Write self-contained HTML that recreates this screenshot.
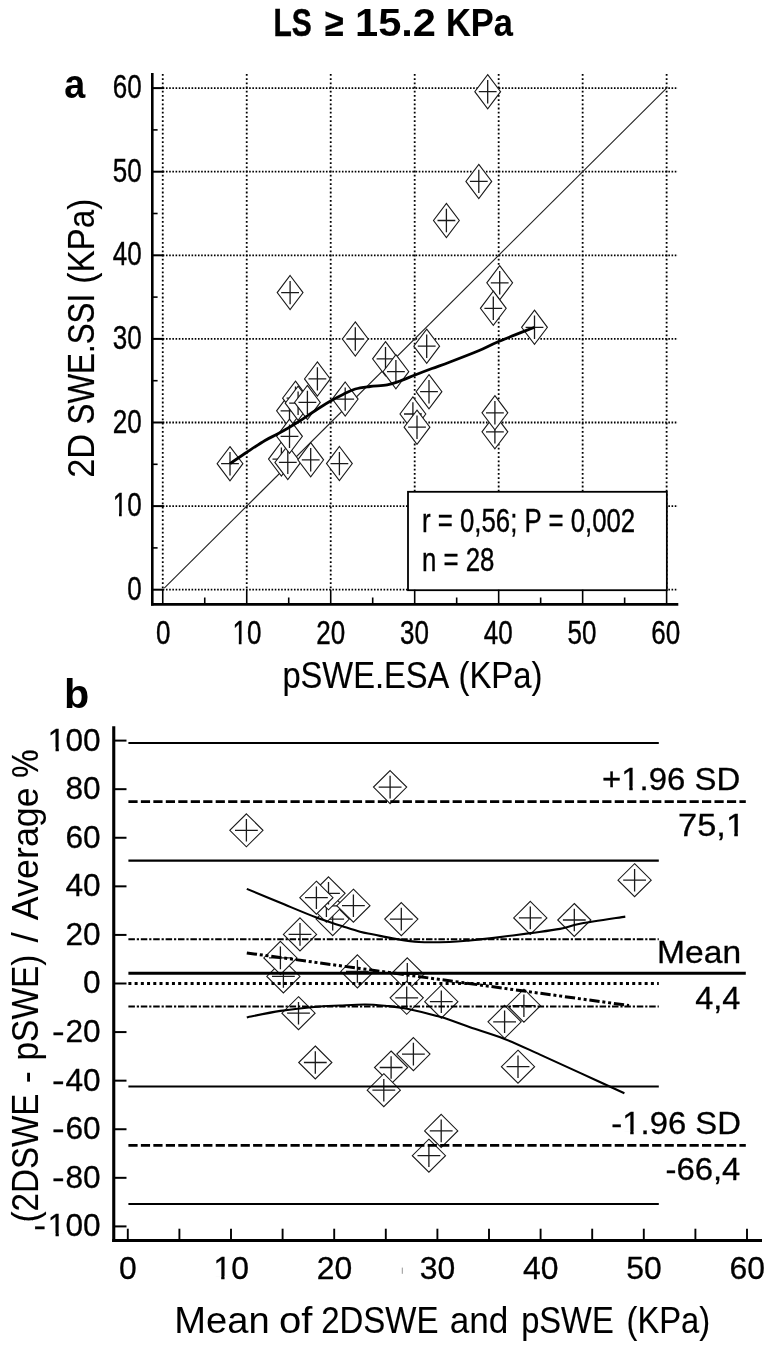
<!DOCTYPE html>
<html lang="en"><head><meta charset="utf-8"><title>LS ≥ 15.2 KPa</title>
<style>html,body{margin:0;padding:0;background:#fff}svg{display:block}text{font-family:'Liberation Sans', sans-serif}</style></head><body>
<svg width="774" height="1349" viewBox="0 0 774 1349">
<rect width="774" height="1349" fill="#fff"/>
<text transform="translate(0 35.50)" font-size="38.5" font-weight="bold"><tspan x="273.45" textLength="38.28" lengthAdjust="spacingAndGlyphs" stroke="#000" stroke-width="0.52">LS</tspan> <tspan x="324.63" textLength="18.99" lengthAdjust="spacingAndGlyphs" stroke="#000" stroke-width="0.15">≥</tspan> <tspan x="354.99" textLength="81.03" lengthAdjust="spacingAndGlyphs">15.2</tspan> <tspan x="445.97" textLength="66.87" lengthAdjust="spacingAndGlyphs" stroke="#000" stroke-width="0.17">KPa</tspan></text>
<g id="chart-a">
<line x1="162.75" y1="74.00" x2="162.75" y2="589.70" stroke="#000" stroke-width="1.8" stroke-dasharray="1.8 2.4" stroke-linecap="butt"/>
<line x1="246.73" y1="74.00" x2="246.73" y2="589.70" stroke="#000" stroke-width="1.8" stroke-dasharray="1.8 2.4" stroke-linecap="butt"/>
<line x1="330.71" y1="74.00" x2="330.71" y2="589.70" stroke="#000" stroke-width="1.8" stroke-dasharray="1.8 2.4" stroke-linecap="butt"/>
<line x1="414.69" y1="74.00" x2="414.69" y2="589.70" stroke="#000" stroke-width="1.8" stroke-dasharray="1.8 2.4" stroke-linecap="butt"/>
<line x1="498.67" y1="74.00" x2="498.67" y2="589.70" stroke="#000" stroke-width="1.8" stroke-dasharray="1.8 2.4" stroke-linecap="butt"/>
<line x1="582.65" y1="74.00" x2="582.65" y2="589.70" stroke="#000" stroke-width="1.8" stroke-dasharray="1.8 2.4" stroke-linecap="butt"/>
<line x1="666.63" y1="74.00" x2="666.63" y2="589.70" stroke="#000" stroke-width="1.8" stroke-dasharray="1.8 2.4" stroke-linecap="butt"/>
<line x1="162.75" y1="589.70" x2="678.00" y2="589.70" stroke="#000" stroke-width="1.8" stroke-dasharray="1.6 1.6" stroke-linecap="butt"/>
<line x1="162.75" y1="506.10" x2="678.00" y2="506.10" stroke="#000" stroke-width="1.8" stroke-dasharray="1.6 1.6" stroke-linecap="butt"/>
<line x1="162.75" y1="422.50" x2="678.00" y2="422.50" stroke="#000" stroke-width="1.8" stroke-dasharray="1.6 1.6" stroke-linecap="butt"/>
<line x1="162.75" y1="338.90" x2="678.00" y2="338.90" stroke="#000" stroke-width="1.8" stroke-dasharray="1.6 1.6" stroke-linecap="butt"/>
<line x1="162.75" y1="255.30" x2="678.00" y2="255.30" stroke="#000" stroke-width="1.8" stroke-dasharray="1.6 1.6" stroke-linecap="butt"/>
<line x1="162.75" y1="171.70" x2="678.00" y2="171.70" stroke="#000" stroke-width="1.8" stroke-dasharray="1.6 1.6" stroke-linecap="butt"/>
<line x1="162.75" y1="88.10" x2="678.00" y2="88.10" stroke="#000" stroke-width="1.8" stroke-dasharray="1.6 1.6" stroke-linecap="butt"/>
<line x1="164.25" y1="588.20" x2="666.63" y2="88.10" stroke="#222" stroke-width="1.1" stroke-linecap="butt"/>
<path d="M494.90 414.70 L507.80 431.80 L494.90 448.90 L482.00 431.80 Z" fill="#fff" stroke="#1a1a1a" stroke-width="1.1"/>
<path d="M486.00 431.80 H503.80 M494.90 420.10 V443.50" fill="none" stroke="#1a1a1a" stroke-width="1.3"/>
<path d="M494.90 395.70 L507.80 412.80 L494.90 429.90 L482.00 412.80 Z" fill="#fff" stroke="#1a1a1a" stroke-width="1.1"/>
<path d="M486.00 412.80 H503.80 M494.90 401.10 V424.50" fill="none" stroke="#1a1a1a" stroke-width="1.3"/>
<path d="M499.70 265.70 L512.60 282.80 L499.70 299.90 L486.80 282.80 Z" fill="#fff" stroke="#1a1a1a" stroke-width="1.1"/>
<path d="M490.80 282.80 H508.60 M499.70 271.10 V294.50" fill="none" stroke="#1a1a1a" stroke-width="1.3"/>
<path d="M493.30 291.20 L506.20 308.30 L493.30 325.40 L480.40 308.30 Z" fill="#fff" stroke="#1a1a1a" stroke-width="1.1"/>
<path d="M484.40 308.30 H502.20 M493.30 296.60 V320.00" fill="none" stroke="#1a1a1a" stroke-width="1.3"/>
<path d="M385.50 341.70 L398.40 358.80 L385.50 375.90 L372.60 358.80 Z" fill="#fff" stroke="#1a1a1a" stroke-width="1.1"/>
<path d="M376.60 358.80 H394.40 M385.50 347.10 V370.50" fill="none" stroke="#1a1a1a" stroke-width="1.3"/>
<path d="M395.90 354.60 L408.80 371.70 L395.90 388.80 L383.00 371.70 Z" fill="#fff" stroke="#1a1a1a" stroke-width="1.1"/>
<path d="M387.00 371.70 H404.80 M395.90 360.00 V383.40" fill="none" stroke="#1a1a1a" stroke-width="1.3"/>
<path d="M412.90 396.90 L425.80 414.00 L412.90 431.10 L400.00 414.00 Z" fill="#fff" stroke="#1a1a1a" stroke-width="1.1"/>
<path d="M404.00 414.00 H421.80 M412.90 402.30 V425.70" fill="none" stroke="#1a1a1a" stroke-width="1.3"/>
<path d="M417.00 410.10 L429.90 427.20 L417.00 444.30 L404.10 427.20 Z" fill="#fff" stroke="#1a1a1a" stroke-width="1.1"/>
<path d="M408.10 427.20 H425.90 M417.00 415.50 V438.90" fill="none" stroke="#1a1a1a" stroke-width="1.3"/>
<path d="M281.40 442.00 L294.30 459.10 L281.40 476.20 L268.50 459.10 Z" fill="#fff" stroke="#1a1a1a" stroke-width="1.1"/>
<path d="M272.50 459.10 H290.30 M281.40 447.40 V470.80" fill="none" stroke="#1a1a1a" stroke-width="1.3"/>
<path d="M287.80 445.30 L300.70 462.40 L287.80 479.50 L274.90 462.40 Z" fill="#fff" stroke="#1a1a1a" stroke-width="1.1"/>
<path d="M278.90 462.40 H296.70 M287.80 450.70 V474.10" fill="none" stroke="#1a1a1a" stroke-width="1.3"/>
<path d="M289.50 393.70 L302.40 410.80 L289.50 427.90 L276.60 410.80 Z" fill="#fff" stroke="#1a1a1a" stroke-width="1.1"/>
<path d="M280.60 410.80 H298.40 M289.50 399.10 V422.50" fill="none" stroke="#1a1a1a" stroke-width="1.3"/>
<path d="M295.50 381.10 L308.40 398.20 L295.50 415.30 L282.60 398.20 Z" fill="#fff" stroke="#1a1a1a" stroke-width="1.1"/>
<path d="M286.60 398.20 H304.40 M295.50 386.50 V409.90" fill="none" stroke="#1a1a1a" stroke-width="1.3"/>
<path d="M298.10 386.10 L311.00 403.20 L298.10 420.30 L285.20 403.20 Z" fill="#fff" stroke="#1a1a1a" stroke-width="1.1"/>
<path d="M289.20 403.20 H307.00 M298.10 391.50 V414.90" fill="none" stroke="#1a1a1a" stroke-width="1.3"/>
<path d="M307.40 385.30 L320.30 402.40 L307.40 419.50 L294.50 402.40 Z" fill="#fff" stroke="#1a1a1a" stroke-width="1.1"/>
<path d="M298.50 402.40 H316.30 M307.40 390.70 V414.10" fill="none" stroke="#1a1a1a" stroke-width="1.3"/>
<path d="M289.50 419.20 L302.40 436.30 L289.50 453.40 L276.60 436.30 Z" fill="#fff" stroke="#1a1a1a" stroke-width="1.1"/>
<path d="M280.60 436.30 H298.40 M289.50 424.60 V448.00" fill="none" stroke="#1a1a1a" stroke-width="1.3"/>
<path d="M487.70 74.60 L500.60 91.70 L487.70 108.80 L474.80 91.70 Z" fill="#fff" stroke="#1a1a1a" stroke-width="1.1"/>
<path d="M478.80 91.70 H496.60 M487.70 80.00 V103.40" fill="none" stroke="#1a1a1a" stroke-width="1.3"/>
<path d="M478.80 164.30 L491.70 181.40 L478.80 198.50 L465.90 181.40 Z" fill="#fff" stroke="#1a1a1a" stroke-width="1.1"/>
<path d="M469.90 181.40 H487.70 M478.80 169.70 V193.10" fill="none" stroke="#1a1a1a" stroke-width="1.3"/>
<path d="M446.40 203.40 L459.30 220.50 L446.40 237.60 L433.50 220.50 Z" fill="#fff" stroke="#1a1a1a" stroke-width="1.1"/>
<path d="M437.50 220.50 H455.30 M446.40 208.80 V232.20" fill="none" stroke="#1a1a1a" stroke-width="1.3"/>
<path d="M290.10 275.50 L303.00 292.60 L290.10 309.70 L277.20 292.60 Z" fill="#fff" stroke="#1a1a1a" stroke-width="1.1"/>
<path d="M281.20 292.60 H299.00 M290.10 280.90 V304.30" fill="none" stroke="#1a1a1a" stroke-width="1.3"/>
<path d="M534.50 310.20 L547.40 327.30 L534.50 344.40 L521.60 327.30 Z" fill="#fff" stroke="#1a1a1a" stroke-width="1.1"/>
<path d="M525.60 327.30 H543.40 M534.50 315.60 V339.00" fill="none" stroke="#1a1a1a" stroke-width="1.3"/>
<path d="M355.30 321.90 L368.20 339.00 L355.30 356.10 L342.40 339.00 Z" fill="#fff" stroke="#1a1a1a" stroke-width="1.1"/>
<path d="M346.40 339.00 H364.20 M355.30 327.30 V350.70" fill="none" stroke="#1a1a1a" stroke-width="1.3"/>
<path d="M426.70 329.10 L439.60 346.20 L426.70 363.30 L413.80 346.20 Z" fill="#fff" stroke="#1a1a1a" stroke-width="1.1"/>
<path d="M417.80 346.20 H435.60 M426.70 334.50 V357.90" fill="none" stroke="#1a1a1a" stroke-width="1.3"/>
<path d="M317.40 361.80 L330.30 378.90 L317.40 396.00 L304.50 378.90 Z" fill="#fff" stroke="#1a1a1a" stroke-width="1.1"/>
<path d="M308.50 378.90 H326.30 M317.40 367.20 V390.60" fill="none" stroke="#1a1a1a" stroke-width="1.3"/>
<path d="M429.00 374.60 L441.90 391.70 L429.00 408.80 L416.10 391.70 Z" fill="#fff" stroke="#1a1a1a" stroke-width="1.1"/>
<path d="M420.10 391.70 H437.90 M429.00 380.00 V403.40" fill="none" stroke="#1a1a1a" stroke-width="1.3"/>
<path d="M345.20 382.00 L358.10 399.10 L345.20 416.20 L332.30 399.10 Z" fill="#fff" stroke="#1a1a1a" stroke-width="1.1"/>
<path d="M336.30 399.10 H354.10 M345.20 387.40 V410.80" fill="none" stroke="#1a1a1a" stroke-width="1.3"/>
<path d="M230.00 446.60 L242.90 463.70 L230.00 480.80 L217.10 463.70 Z" fill="#fff" stroke="#1a1a1a" stroke-width="1.1"/>
<path d="M221.10 463.70 H238.90 M230.00 452.00 V475.40" fill="none" stroke="#1a1a1a" stroke-width="1.3"/>
<path d="M310.70 442.70 L323.60 459.80 L310.70 476.90 L297.80 459.80 Z" fill="#fff" stroke="#1a1a1a" stroke-width="1.1"/>
<path d="M301.80 459.80 H319.60 M310.70 448.10 V471.50" fill="none" stroke="#1a1a1a" stroke-width="1.3"/>
<path d="M339.40 446.50 L352.30 463.60 L339.40 480.70 L326.50 463.60 Z" fill="#fff" stroke="#1a1a1a" stroke-width="1.1"/>
<path d="M330.50 463.60 H348.30 M339.40 451.90 V475.30" fill="none" stroke="#1a1a1a" stroke-width="1.3"/>
<path d="M230.00 463.60 C232.87 461.67 241.37 455.85 247.20 452.00 C253.03 448.15 259.95 443.50 265.00 440.50 C270.05 437.50 273.42 436.22 277.50 434.00 C281.58 431.78 285.75 429.40 289.50 427.20 C293.25 425.00 297.02 422.70 300.00 420.80 C302.98 418.90 304.07 418.02 307.40 415.80 C310.73 413.58 316.07 410.00 320.00 407.50 C323.93 405.00 327.17 402.97 331.00 400.80 C334.83 398.63 338.95 396.47 343.00 394.50 C347.05 392.53 350.80 390.33 355.30 389.00 C359.80 387.67 364.68 387.20 370.00 386.50 C375.32 385.80 382.20 385.72 387.20 384.80 C392.20 383.88 395.25 382.68 400.00 381.00 C404.75 379.32 410.37 376.78 415.70 374.70 C421.03 372.62 426.28 370.62 432.00 368.50 C437.72 366.38 442.23 364.95 450.00 362.00 C457.77 359.05 470.48 354.22 478.60 350.80 C486.72 347.38 489.38 345.43 498.70 341.50 C508.02 337.57 528.53 329.58 534.50 327.20" fill="none" stroke="#000" stroke-width="2.8" stroke-linejoin="round"/>
<rect x="408" y="491.8" width="258.85" height="98.4" fill="#fff" stroke="#000" stroke-width="1.8"/>
<text transform="translate(422.00 532.00) scale(0.7940 1)" font-size="32.5" font-weight="normal" text-anchor="start" fill="#000" stroke="#000" stroke-width="0.4">r = 0,56; P = 0,002</text>
<text transform="translate(422.00 570.80) scale(0.7940 1)" font-size="32.5" font-weight="normal" text-anchor="start" fill="#000" stroke="#000" stroke-width="0.4">n = 28</text>
<line x1="152.30" y1="73.00" x2="152.30" y2="605.60" stroke="#000" stroke-width="2.6" stroke-linecap="butt"/>
<line x1="151.00" y1="604.30" x2="678.30" y2="604.30" stroke="#000" stroke-width="2.7" stroke-linecap="butt"/>
<line x1="153.00" y1="589.70" x2="163.50" y2="589.70" stroke="#000" stroke-width="2.0" stroke-linecap="butt"/>
<line x1="162.75" y1="604.00" x2="162.75" y2="589.70" stroke="#000" stroke-width="1.6" stroke-linecap="butt"/>
<line x1="153.00" y1="547.90" x2="157.60" y2="547.90" stroke="#000" stroke-width="1.6" stroke-linecap="butt"/>
<line x1="204.74" y1="604.00" x2="204.74" y2="597.50" stroke="#000" stroke-width="1.6" stroke-linecap="butt"/>
<line x1="153.00" y1="506.10" x2="163.50" y2="506.10" stroke="#000" stroke-width="2.0" stroke-linecap="butt"/>
<line x1="246.73" y1="604.00" x2="246.73" y2="589.70" stroke="#000" stroke-width="1.6" stroke-linecap="butt"/>
<line x1="153.00" y1="464.30" x2="157.60" y2="464.30" stroke="#000" stroke-width="1.6" stroke-linecap="butt"/>
<line x1="288.72" y1="604.00" x2="288.72" y2="597.50" stroke="#000" stroke-width="1.6" stroke-linecap="butt"/>
<line x1="153.00" y1="422.50" x2="163.50" y2="422.50" stroke="#000" stroke-width="2.0" stroke-linecap="butt"/>
<line x1="330.71" y1="604.00" x2="330.71" y2="589.70" stroke="#000" stroke-width="1.6" stroke-linecap="butt"/>
<line x1="153.00" y1="380.70" x2="157.60" y2="380.70" stroke="#000" stroke-width="1.6" stroke-linecap="butt"/>
<line x1="372.70" y1="604.00" x2="372.70" y2="597.50" stroke="#000" stroke-width="1.6" stroke-linecap="butt"/>
<line x1="153.00" y1="338.90" x2="163.50" y2="338.90" stroke="#000" stroke-width="2.0" stroke-linecap="butt"/>
<line x1="414.69" y1="604.00" x2="414.69" y2="589.70" stroke="#000" stroke-width="1.6" stroke-linecap="butt"/>
<line x1="153.00" y1="297.10" x2="157.60" y2="297.10" stroke="#000" stroke-width="1.6" stroke-linecap="butt"/>
<line x1="456.68" y1="604.00" x2="456.68" y2="597.50" stroke="#000" stroke-width="1.6" stroke-linecap="butt"/>
<line x1="153.00" y1="255.30" x2="163.50" y2="255.30" stroke="#000" stroke-width="2.0" stroke-linecap="butt"/>
<line x1="498.67" y1="604.00" x2="498.67" y2="589.70" stroke="#000" stroke-width="1.6" stroke-linecap="butt"/>
<line x1="153.00" y1="213.50" x2="157.60" y2="213.50" stroke="#000" stroke-width="1.6" stroke-linecap="butt"/>
<line x1="540.66" y1="604.00" x2="540.66" y2="597.50" stroke="#000" stroke-width="1.6" stroke-linecap="butt"/>
<line x1="153.00" y1="171.70" x2="163.50" y2="171.70" stroke="#000" stroke-width="2.0" stroke-linecap="butt"/>
<line x1="582.65" y1="604.00" x2="582.65" y2="589.70" stroke="#000" stroke-width="1.6" stroke-linecap="butt"/>
<line x1="153.00" y1="129.90" x2="157.60" y2="129.90" stroke="#000" stroke-width="1.6" stroke-linecap="butt"/>
<line x1="624.64" y1="604.00" x2="624.64" y2="597.50" stroke="#000" stroke-width="1.6" stroke-linecap="butt"/>
<line x1="153.00" y1="88.10" x2="163.50" y2="88.10" stroke="#000" stroke-width="2.0" stroke-linecap="butt"/>
<line x1="666.63" y1="604.00" x2="666.63" y2="589.70" stroke="#000" stroke-width="1.6" stroke-linecap="butt"/>
<text transform="translate(141.60 599.80) scale(0.8000 1)" font-size="32.5" font-weight="normal" text-anchor="end" fill="#000" stroke="#000" stroke-width="0.4">0</text>
<text transform="translate(163.20 644.40) scale(0.8000 1)" font-size="32.5" font-weight="normal" text-anchor="middle" fill="#000" stroke="#000" stroke-width="0.4">0</text>
<text transform="translate(141.60 516.20) scale(0.8000 1)" font-size="32.5" font-weight="normal" text-anchor="end" fill="#000" stroke="#000" stroke-width="0.4">10</text>
<text transform="translate(246.95 644.40) scale(0.8000 1)" font-size="32.5" font-weight="normal" text-anchor="middle" fill="#000" stroke="#000" stroke-width="0.4">10</text>
<text transform="translate(141.60 432.60) scale(0.8000 1)" font-size="32.5" font-weight="normal" text-anchor="end" fill="#000" stroke="#000" stroke-width="0.4">20</text>
<text transform="translate(330.70 644.40) scale(0.8000 1)" font-size="32.5" font-weight="normal" text-anchor="middle" fill="#000" stroke="#000" stroke-width="0.4">20</text>
<text transform="translate(141.60 349.00) scale(0.8000 1)" font-size="32.5" font-weight="normal" text-anchor="end" fill="#000" stroke="#000" stroke-width="0.4">30</text>
<text transform="translate(414.45 644.40) scale(0.8000 1)" font-size="32.5" font-weight="normal" text-anchor="middle" fill="#000" stroke="#000" stroke-width="0.4">30</text>
<text transform="translate(141.60 265.40) scale(0.8000 1)" font-size="32.5" font-weight="normal" text-anchor="end" fill="#000" stroke="#000" stroke-width="0.4">40</text>
<text transform="translate(498.20 644.40) scale(0.8000 1)" font-size="32.5" font-weight="normal" text-anchor="middle" fill="#000" stroke="#000" stroke-width="0.4">40</text>
<text transform="translate(141.60 181.80) scale(0.8000 1)" font-size="32.5" font-weight="normal" text-anchor="end" fill="#000" stroke="#000" stroke-width="0.4">50</text>
<text transform="translate(581.95 644.40) scale(0.8000 1)" font-size="32.5" font-weight="normal" text-anchor="middle" fill="#000" stroke="#000" stroke-width="0.4">50</text>
<text transform="translate(141.60 98.20) scale(0.8000 1)" font-size="32.5" font-weight="normal" text-anchor="end" fill="#000" stroke="#000" stroke-width="0.4">60</text>
<text transform="translate(665.70 644.40) scale(0.8000 1)" font-size="32.5" font-weight="normal" text-anchor="middle" fill="#000" stroke="#000" stroke-width="0.4">60</text>
<rect x="113.86" y="512.79" width="5.15" height="5.04" fill="#fff"/>
<rect x="121.71" y="512.79" width="4.94" height="5.04" fill="#fff"/>
<rect x="233.66" y="640.99" width="5.15" height="5.04" fill="#fff"/>
<rect x="241.52" y="640.99" width="4.94" height="5.04" fill="#fff"/>
<text transform="translate(0 687.50)" font-size="37" font-weight="normal"><tspan x="282.40" textLength="165.19" lengthAdjust="spacingAndGlyphs" stroke="#000" stroke-width="0.15">pSWE.ESA</tspan> <tspan x="458.53" textLength="83.98" lengthAdjust="spacingAndGlyphs" stroke="#000" stroke-width="0.12">(KPa)</tspan></text>
<text transform="translate(94.00 0) rotate(-90)" font-size="37" font-weight="normal"><tspan x="-477.82" textLength="43.88" lengthAdjust="spacingAndGlyphs" stroke="#000" stroke-width="0.04">2D</tspan> <tspan x="-424.51" textLength="130.71" lengthAdjust="spacingAndGlyphs" stroke="#000" stroke-width="0.2">SWE.SSI</tspan> <tspan x="-283.70" textLength="85.14" lengthAdjust="spacingAndGlyphs" stroke="#000" stroke-width="0.1">(KPa)</tspan></text>
<text transform="translate(64.17 98.30) scale(0.9434 1)" font-size="40" font-weight="bold" stroke="#000" stroke-width="0.02">a</text>
</g>
<g id="chart-b">
<path d="M332.70 902.60 L349.30 919.10 L332.70 935.60 L316.10 919.10 Z" fill="#fff" stroke="#1a1a1a" stroke-width="1.1"/>
<path d="M321.30 919.10 H344.10 M332.70 907.80 V930.40" fill="none" stroke="#1a1a1a" stroke-width="1.3"/>
<path d="M326.40 889.30 L343.00 905.80 L326.40 922.30 L309.80 905.80 Z" fill="#fff" stroke="#1a1a1a" stroke-width="1.1"/>
<path d="M315.00 905.80 H337.80 M326.40 894.50 V917.10" fill="none" stroke="#1a1a1a" stroke-width="1.3"/>
<path d="M328.50 876.80 L345.10 893.30 L328.50 909.80 L311.90 893.30 Z" fill="#fff" stroke="#1a1a1a" stroke-width="1.1"/>
<path d="M317.10 893.30 H339.90 M328.50 882.00 V904.60" fill="none" stroke="#1a1a1a" stroke-width="1.3"/>
<path d="M316.40 881.20 L333.00 897.70 L316.40 914.20 L299.80 897.70 Z" fill="#fff" stroke="#1a1a1a" stroke-width="1.1"/>
<path d="M305.00 897.70 H327.80 M316.40 886.40 V909.00" fill="none" stroke="#1a1a1a" stroke-width="1.3"/>
<path d="M353.40 889.20 L370.00 905.70 L353.40 922.20 L336.80 905.70 Z" fill="#fff" stroke="#1a1a1a" stroke-width="1.1"/>
<path d="M342.00 905.70 H364.80 M353.40 894.40 V917.00" fill="none" stroke="#1a1a1a" stroke-width="1.3"/>
<path d="M407.30 957.80 L423.90 974.30 L407.30 990.80 L390.70 974.30 Z" fill="#fff" stroke="#1a1a1a" stroke-width="1.1"/>
<path d="M395.90 974.30 H418.70 M407.30 963.00 V985.60" fill="none" stroke="#1a1a1a" stroke-width="1.3"/>
<path d="M406.70 981.30 L423.30 997.80 L406.70 1014.30 L390.10 997.80 Z" fill="#fff" stroke="#1a1a1a" stroke-width="1.1"/>
<path d="M395.30 997.80 H418.10 M406.70 986.50 V1009.10" fill="none" stroke="#1a1a1a" stroke-width="1.3"/>
<path d="M523.90 989.20 L540.50 1005.70 L523.90 1022.20 L507.30 1005.70 Z" fill="#fff" stroke="#1a1a1a" stroke-width="1.1"/>
<path d="M512.50 1005.70 H535.30 M523.90 994.40 V1017.00" fill="none" stroke="#1a1a1a" stroke-width="1.3"/>
<path d="M504.60 1005.30 L521.20 1021.80 L504.60 1038.30 L488.00 1021.80 Z" fill="#fff" stroke="#1a1a1a" stroke-width="1.1"/>
<path d="M493.20 1021.80 H516.00 M504.60 1010.50 V1033.10" fill="none" stroke="#1a1a1a" stroke-width="1.3"/>
<path d="M391.10 1051.00 L407.70 1067.50 L391.10 1084.00 L374.50 1067.50 Z" fill="#fff" stroke="#1a1a1a" stroke-width="1.1"/>
<path d="M379.70 1067.50 H402.50 M391.10 1056.20 V1078.80" fill="none" stroke="#1a1a1a" stroke-width="1.3"/>
<path d="M383.80 1073.70 L400.40 1090.20 L383.80 1106.70 L367.20 1090.20 Z" fill="#fff" stroke="#1a1a1a" stroke-width="1.1"/>
<path d="M372.40 1090.20 H395.20 M383.80 1078.90 V1101.50" fill="none" stroke="#1a1a1a" stroke-width="1.3"/>
<path d="M283.40 959.90 L300.00 976.40 L283.40 992.90 L266.80 976.40 Z" fill="#fff" stroke="#1a1a1a" stroke-width="1.1"/>
<path d="M272.00 976.40 H294.80 M283.40 965.10 V987.70" fill="none" stroke="#1a1a1a" stroke-width="1.3"/>
<path d="M280.40 941.40 L297.00 957.90 L280.40 974.40 L263.80 957.90 Z" fill="#fff" stroke="#1a1a1a" stroke-width="1.1"/>
<path d="M269.00 957.90 H291.80 M280.40 946.60 V969.20" fill="none" stroke="#1a1a1a" stroke-width="1.3"/>
<path d="M246.40 813.80 L263.00 830.30 L246.40 846.80 L229.80 830.30 Z" fill="#fff" stroke="#1a1a1a" stroke-width="1.1"/>
<path d="M235.00 830.30 H257.80 M246.40 819.00 V841.60" fill="none" stroke="#1a1a1a" stroke-width="1.3"/>
<path d="M390.10 770.60 L406.70 787.10 L390.10 803.60 L373.50 787.10 Z" fill="#fff" stroke="#1a1a1a" stroke-width="1.1"/>
<path d="M378.70 787.10 H401.50 M390.10 775.80 V798.40" fill="none" stroke="#1a1a1a" stroke-width="1.3"/>
<path d="M634.60 863.70 L651.20 880.20 L634.60 896.70 L618.00 880.20 Z" fill="#fff" stroke="#1a1a1a" stroke-width="1.1"/>
<path d="M623.20 880.20 H646.00 M634.60 868.90 V891.50" fill="none" stroke="#1a1a1a" stroke-width="1.3"/>
<path d="M401.30 902.60 L417.90 919.10 L401.30 935.60 L384.70 919.10 Z" fill="#fff" stroke="#1a1a1a" stroke-width="1.1"/>
<path d="M389.90 919.10 H412.70 M401.30 907.80 V930.40" fill="none" stroke="#1a1a1a" stroke-width="1.3"/>
<path d="M530.30 901.40 L546.90 917.90 L530.30 934.40 L513.70 917.90 Z" fill="#fff" stroke="#1a1a1a" stroke-width="1.1"/>
<path d="M518.90 917.90 H541.70 M530.30 906.60 V929.20" fill="none" stroke="#1a1a1a" stroke-width="1.3"/>
<path d="M574.30 903.50 L590.90 920.00 L574.30 936.50 L557.70 920.00 Z" fill="#fff" stroke="#1a1a1a" stroke-width="1.1"/>
<path d="M562.90 920.00 H585.70 M574.30 908.70 V931.30" fill="none" stroke="#1a1a1a" stroke-width="1.3"/>
<path d="M300.00 917.90 L316.60 934.40 L300.00 950.90 L283.40 934.40 Z" fill="#fff" stroke="#1a1a1a" stroke-width="1.1"/>
<path d="M288.60 934.40 H311.40 M300.00 923.10 V945.70" fill="none" stroke="#1a1a1a" stroke-width="1.3"/>
<path d="M357.40 954.90 L374.00 971.40 L357.40 987.90 L340.80 971.40 Z" fill="#fff" stroke="#1a1a1a" stroke-width="1.1"/>
<path d="M346.00 971.40 H368.80 M357.40 960.10 V982.70" fill="none" stroke="#1a1a1a" stroke-width="1.3"/>
<path d="M441.30 985.20 L457.90 1001.70 L441.30 1018.20 L424.70 1001.70 Z" fill="#fff" stroke="#1a1a1a" stroke-width="1.1"/>
<path d="M429.90 1001.70 H452.70 M441.30 990.40 V1013.00" fill="none" stroke="#1a1a1a" stroke-width="1.3"/>
<path d="M298.50 996.70 L315.10 1013.20 L298.50 1029.70 L281.90 1013.20 Z" fill="#fff" stroke="#1a1a1a" stroke-width="1.1"/>
<path d="M287.10 1013.20 H309.90 M298.50 1001.90 V1024.50" fill="none" stroke="#1a1a1a" stroke-width="1.3"/>
<path d="M315.30 1046.00 L331.90 1062.50 L315.30 1079.00 L298.70 1062.50 Z" fill="#fff" stroke="#1a1a1a" stroke-width="1.1"/>
<path d="M303.90 1062.50 H326.70 M315.30 1051.20 V1073.80" fill="none" stroke="#1a1a1a" stroke-width="1.3"/>
<path d="M413.40 1037.60 L430.00 1054.10 L413.40 1070.60 L396.80 1054.10 Z" fill="#fff" stroke="#1a1a1a" stroke-width="1.1"/>
<path d="M402.00 1054.10 H424.80 M413.40 1042.80 V1065.40" fill="none" stroke="#1a1a1a" stroke-width="1.3"/>
<path d="M518.00 1050.20 L534.60 1066.70 L518.00 1083.20 L501.40 1066.70 Z" fill="#fff" stroke="#1a1a1a" stroke-width="1.1"/>
<path d="M506.60 1066.70 H529.40 M518.00 1055.40 V1078.00" fill="none" stroke="#1a1a1a" stroke-width="1.3"/>
<path d="M441.20 1114.40 L457.80 1130.90 L441.20 1147.40 L424.60 1130.90 Z" fill="#fff" stroke="#1a1a1a" stroke-width="1.1"/>
<path d="M429.80 1130.90 H452.60 M441.20 1119.60 V1142.20" fill="none" stroke="#1a1a1a" stroke-width="1.3"/>
<path d="M428.90 1139.20 L445.50 1155.70 L428.90 1172.20 L412.30 1155.70 Z" fill="#fff" stroke="#1a1a1a" stroke-width="1.1"/>
<path d="M417.50 1155.70 H440.30 M428.90 1144.40 V1167.00" fill="none" stroke="#1a1a1a" stroke-width="1.3"/>
<line x1="128.40" y1="742.90" x2="658.80" y2="742.90" stroke="#000" stroke-width="2.0" stroke-linecap="butt"/>
<line x1="128.40" y1="801.60" x2="745.80" y2="801.60" stroke="#000" stroke-width="2.8" stroke-dasharray="9.2 3.27" stroke-linecap="butt"/>
<line x1="128.40" y1="860.60" x2="658.80" y2="860.60" stroke="#000" stroke-width="2.1" stroke-linecap="butt"/>
<line x1="128.40" y1="939.30" x2="658.80" y2="939.30" stroke="#000" stroke-width="1.9" stroke-dasharray="6.5 1.9 2.2 1.8" stroke-linecap="butt"/>
<line x1="128.40" y1="973.30" x2="745.80" y2="973.30" stroke="#000" stroke-width="3.0" stroke-linecap="butt"/>
<line x1="128.40" y1="983.50" x2="658.80" y2="983.50" stroke="#000" stroke-width="2.8" stroke-dasharray="3.0 3.22" stroke-linecap="butt"/>
<line x1="128.40" y1="1006.50" x2="658.80" y2="1006.50" stroke="#000" stroke-width="1.9" stroke-dasharray="6.5 1.9 2.2 1.8" stroke-linecap="butt"/>
<line x1="128.40" y1="1086.50" x2="658.80" y2="1086.50" stroke="#000" stroke-width="2.1" stroke-linecap="butt"/>
<line x1="128.40" y1="1145.40" x2="745.80" y2="1145.40" stroke="#000" stroke-width="2.8" stroke-dasharray="9.2 3.27" stroke-linecap="butt"/>
<line x1="128.40" y1="1204.00" x2="658.80" y2="1204.00" stroke="#000" stroke-width="2.1" stroke-linecap="butt"/>
<line x1="246.80" y1="952.90" x2="629.00" y2="1005.50" stroke="#000" stroke-width="3.0" stroke-dasharray="10.3 2.8 3 2.8 3 2.8" stroke-linecap="butt"/>
<path d="M246.80 888.90 C252.40 891.22 268.80 898.03 280.40 902.80 C292.00 907.57 306.18 913.63 316.40 917.50 C326.62 921.37 334.43 923.62 341.70 926.00 C348.97 928.38 354.68 930.38 360.00 931.80 C365.32 933.22 367.70 933.32 373.60 934.50 C379.50 935.68 387.85 937.65 395.40 938.90 C402.95 940.15 409.93 941.48 418.90 942.00 C427.87 942.52 440.68 942.25 449.20 942.00 C457.72 941.75 462.87 941.15 470.00 940.50 C477.13 939.85 481.95 939.33 492.00 938.10 C502.05 936.87 518.97 934.63 530.30 933.10 C541.63 931.57 551.72 930.45 560.00 928.90 C568.28 927.35 569.12 925.85 580.00 923.80 C590.88 921.75 617.75 917.80 625.30 916.60" fill="none" stroke="#000" stroke-width="2.1" stroke-linejoin="round"/>
<path d="M246.80 1017.40 C252.40 1016.32 269.20 1012.63 280.40 1010.90 C291.60 1009.17 304.07 1007.90 314.00 1007.00 C323.93 1006.10 331.47 1005.92 340.00 1005.50 C348.53 1005.08 357.70 1004.45 365.20 1004.50 C372.70 1004.55 378.00 1005.10 385.00 1005.80 C392.00 1006.50 397.90 1006.82 407.20 1008.70 C416.50 1010.58 430.33 1014.02 440.80 1017.10 C451.27 1020.18 459.37 1023.57 470.00 1027.20 C480.63 1030.83 492.93 1034.33 504.60 1038.90 C516.27 1043.47 527.43 1048.93 540.00 1054.60 C552.57 1060.27 565.93 1066.45 580.00 1072.90 C594.07 1079.35 617.00 1089.90 624.40 1093.30" fill="none" stroke="#000" stroke-width="2.1" stroke-linejoin="round"/>
<line x1="113.75" y1="726.30" x2="113.75" y2="1242.00" stroke="#000" stroke-width="3.1" stroke-linecap="butt"/>
<line x1="112.20" y1="1240.50" x2="762.00" y2="1240.50" stroke="#000" stroke-width="3.0" stroke-linecap="butt"/>
<line x1="115.00" y1="740.60" x2="126.50" y2="740.60" stroke="#000" stroke-width="2.0" stroke-linecap="butt"/>
<text transform="translate(0 750.50)" font-size="31" font-weight="normal"><tspan x="47.86" textLength="52.76" lengthAdjust="spacingAndGlyphs" stroke="#000" stroke-width="0.3">100</tspan></text>
<line x1="115.00" y1="789.18" x2="126.50" y2="789.18" stroke="#000" stroke-width="2.0" stroke-linecap="butt"/>
<text transform="translate(0 799.08)" font-size="31" font-weight="normal"><tspan x="65.44" textLength="35.17" lengthAdjust="spacingAndGlyphs" stroke="#000" stroke-width="0.3">80</tspan></text>
<line x1="115.00" y1="837.76" x2="126.50" y2="837.76" stroke="#000" stroke-width="2.0" stroke-linecap="butt"/>
<text transform="translate(0 847.66)" font-size="31" font-weight="normal"><tspan x="65.44" textLength="35.17" lengthAdjust="spacingAndGlyphs" stroke="#000" stroke-width="0.3">60</tspan></text>
<line x1="115.00" y1="886.34" x2="126.50" y2="886.34" stroke="#000" stroke-width="2.0" stroke-linecap="butt"/>
<text transform="translate(0 896.24)" font-size="31" font-weight="normal"><tspan x="65.44" textLength="35.17" lengthAdjust="spacingAndGlyphs" stroke="#000" stroke-width="0.3">40</tspan></text>
<line x1="115.00" y1="934.92" x2="126.50" y2="934.92" stroke="#000" stroke-width="2.0" stroke-linecap="butt"/>
<text transform="translate(0 944.82)" font-size="31" font-weight="normal"><tspan x="65.44" textLength="35.17" lengthAdjust="spacingAndGlyphs" stroke="#000" stroke-width="0.3">20</tspan></text>
<line x1="115.00" y1="983.50" x2="126.50" y2="983.50" stroke="#000" stroke-width="2.0" stroke-linecap="butt"/>
<text transform="translate(0 993.40)" font-size="31" font-weight="normal"><tspan x="83.02" textLength="17.59" lengthAdjust="spacingAndGlyphs" stroke="#000" stroke-width="0.3">0</tspan></text>
<line x1="115.00" y1="1032.08" x2="126.50" y2="1032.08" stroke="#000" stroke-width="2.0" stroke-linecap="butt"/>
<text transform="translate(0 1041.98)" font-size="31" font-weight="normal"><tspan x="51.99" textLength="12.64" lengthAdjust="spacingAndGlyphs" stroke="#000" stroke-width="0.3">-</tspan><tspan x="65.44" textLength="35.17" lengthAdjust="spacingAndGlyphs" stroke="#000" stroke-width="0.3">20</tspan></text>
<line x1="115.00" y1="1080.66" x2="126.50" y2="1080.66" stroke="#000" stroke-width="2.0" stroke-linecap="butt"/>
<text transform="translate(0 1090.56)" font-size="31" font-weight="normal"><tspan x="51.99" textLength="12.64" lengthAdjust="spacingAndGlyphs" stroke="#000" stroke-width="0.3">-</tspan><tspan x="65.44" textLength="35.17" lengthAdjust="spacingAndGlyphs" stroke="#000" stroke-width="0.3">40</tspan></text>
<line x1="115.00" y1="1129.24" x2="126.50" y2="1129.24" stroke="#000" stroke-width="2.0" stroke-linecap="butt"/>
<text transform="translate(0 1139.14)" font-size="31" font-weight="normal"><tspan x="51.99" textLength="12.64" lengthAdjust="spacingAndGlyphs" stroke="#000" stroke-width="0.3">-</tspan><tspan x="65.44" textLength="35.17" lengthAdjust="spacingAndGlyphs" stroke="#000" stroke-width="0.3">60</tspan></text>
<line x1="115.00" y1="1177.82" x2="126.50" y2="1177.82" stroke="#000" stroke-width="2.0" stroke-linecap="butt"/>
<text transform="translate(0 1187.72)" font-size="31" font-weight="normal"><tspan x="51.99" textLength="12.64" lengthAdjust="spacingAndGlyphs" stroke="#000" stroke-width="0.3">-</tspan><tspan x="65.44" textLength="35.17" lengthAdjust="spacingAndGlyphs" stroke="#000" stroke-width="0.3">80</tspan></text>
<line x1="115.00" y1="1226.40" x2="126.50" y2="1226.40" stroke="#000" stroke-width="2.0" stroke-linecap="butt"/>
<text transform="translate(0 1236.30)" font-size="31" font-weight="normal"><tspan x="33.61" textLength="12.51" lengthAdjust="spacingAndGlyphs" stroke="#000" stroke-width="0.3">-</tspan><tspan x="47.86" textLength="52.76" lengthAdjust="spacingAndGlyphs" stroke="#000" stroke-width="0.3">100</tspan></text>
<line x1="127.80" y1="1240.00" x2="127.80" y2="1228.70" stroke="#000" stroke-width="1.9" stroke-linecap="butt"/>
<line x1="179.40" y1="1240.00" x2="179.40" y2="1228.70" stroke="#000" stroke-width="1.9" stroke-linecap="butt"/>
<line x1="231.00" y1="1240.00" x2="231.00" y2="1228.70" stroke="#000" stroke-width="1.9" stroke-linecap="butt"/>
<line x1="282.60" y1="1240.00" x2="282.60" y2="1228.70" stroke="#000" stroke-width="1.9" stroke-linecap="butt"/>
<line x1="334.20" y1="1240.00" x2="334.20" y2="1228.70" stroke="#000" stroke-width="1.9" stroke-linecap="butt"/>
<line x1="385.80" y1="1240.00" x2="385.80" y2="1228.70" stroke="#000" stroke-width="1.9" stroke-linecap="butt"/>
<line x1="437.40" y1="1240.00" x2="437.40" y2="1228.70" stroke="#000" stroke-width="1.9" stroke-linecap="butt"/>
<line x1="489.00" y1="1240.00" x2="489.00" y2="1228.70" stroke="#000" stroke-width="1.9" stroke-linecap="butt"/>
<line x1="540.60" y1="1240.00" x2="540.60" y2="1228.70" stroke="#000" stroke-width="1.9" stroke-linecap="butt"/>
<line x1="592.20" y1="1240.00" x2="592.20" y2="1228.70" stroke="#000" stroke-width="1.9" stroke-linecap="butt"/>
<line x1="643.80" y1="1240.00" x2="643.80" y2="1228.70" stroke="#000" stroke-width="1.9" stroke-linecap="butt"/>
<line x1="695.40" y1="1240.00" x2="695.40" y2="1228.70" stroke="#000" stroke-width="1.9" stroke-linecap="butt"/>
<line x1="747.00" y1="1240.00" x2="747.00" y2="1228.70" stroke="#000" stroke-width="1.9" stroke-linecap="butt"/>
<text transform="translate(128.00 1279.30) scale(1.0300 1)" font-size="31" font-weight="normal" text-anchor="middle" fill="#000" stroke="#000" stroke-width="0.3">0</text>
<text transform="translate(231.20 1279.30) scale(1.0300 1)" font-size="31" font-weight="normal" text-anchor="middle" fill="#000" stroke="#000" stroke-width="0.3">10</text>
<text transform="translate(334.40 1279.30) scale(1.0300 1)" font-size="31" font-weight="normal" text-anchor="middle" fill="#000" stroke="#000" stroke-width="0.3">20</text>
<text transform="translate(437.60 1279.30) scale(1.0300 1)" font-size="31" font-weight="normal" text-anchor="middle" fill="#000" stroke="#000" stroke-width="0.3">30</text>
<text transform="translate(540.80 1279.30) scale(1.0300 1)" font-size="31" font-weight="normal" text-anchor="middle" fill="#000" stroke="#000" stroke-width="0.3">40</text>
<text transform="translate(644.00 1279.30) scale(1.0300 1)" font-size="31" font-weight="normal" text-anchor="middle" fill="#000" stroke="#000" stroke-width="0.3">50</text>
<text transform="translate(747.20 1279.30) scale(1.0300 1)" font-size="31" font-weight="normal" text-anchor="middle" fill="#000" stroke="#000" stroke-width="0.3">60</text>
<text transform="translate(602.05 789.50) scale(1.0622 1)" font-size="31" font-weight="normal" stroke="#000" stroke-width="0.3">+1.96 SD</text>
<text transform="translate(678.08 835.60) scale(1.1098 1)" font-size="31" font-weight="normal" stroke="#000" stroke-width="0.3">75,1</text>
<text transform="translate(657.11 962.70) scale(1.0835 1)" font-size="31" font-weight="normal" stroke="#000" stroke-width="0.3">Mean</text>
<text transform="translate(695.19 1008.50) scale(1.0487 1)" font-size="31" font-weight="normal" stroke="#000" stroke-width="0.3">4,4</text>
<text transform="translate(611.32 1134.30) scale(1.0594 1)" font-size="31" font-weight="normal" stroke="#000" stroke-width="0.3">-1.96 SD</text>
<text transform="translate(665.52 1180.30) scale(1.0592 1)" font-size="31" font-weight="normal" stroke="#000" stroke-width="0.3">-66,4</text>
<rect x="49.28" y="747.25" width="6.26" height="4.80" fill="#fff"/>
<rect x="58.83" y="747.25" width="6.01" height="4.80" fill="#fff"/>
<rect x="49.28" y="1233.05" width="6.26" height="4.80" fill="#fff"/>
<rect x="58.83" y="1233.05" width="6.01" height="4.80" fill="#fff"/>
<rect x="214.88" y="1276.04" width="6.32" height="4.80" fill="#fff"/>
<rect x="224.53" y="1276.04" width="6.07" height="4.80" fill="#fff"/>
<rect x="622.76" y="786.25" width="6.52" height="4.80" fill="#fff"/>
<rect x="632.71" y="786.25" width="6.26" height="4.80" fill="#fff"/>
<rect x="727.45" y="832.35" width="6.81" height="4.80" fill="#fff"/>
<rect x="737.84" y="832.35" width="6.54" height="4.80" fill="#fff"/>
<rect x="623.74" y="1131.04" width="6.50" height="4.80" fill="#fff"/>
<rect x="633.65" y="1131.04" width="6.24" height="4.80" fill="#fff"/>
<text transform="translate(0 1332.60)" font-size="37" font-weight="normal"><tspan x="174.35" textLength="95.39" lengthAdjust="spacingAndGlyphs">Mean</tspan> <tspan x="278.90" textLength="33.36" lengthAdjust="spacingAndGlyphs">of</tspan> <tspan x="321.15" textLength="117.31" lengthAdjust="spacingAndGlyphs" stroke="#000" stroke-width="0.12">2DSWE</tspan> <tspan x="449.72" textLength="58.72" lengthAdjust="spacingAndGlyphs">and</tspan> <tspan x="521.18" textLength="92.56" lengthAdjust="spacingAndGlyphs" stroke="#000" stroke-width="0.13">pSWE</tspan> <tspan x="626.54" textLength="83.56" lengthAdjust="spacingAndGlyphs" stroke="#000" stroke-width="0.13">(KPa)</tspan></text>
<text transform="translate(38.00 0) rotate(-90)" font-size="37" font-weight="normal"><tspan x="-1222.59" textLength="129.06" lengthAdjust="spacingAndGlyphs" stroke="#000" stroke-width="0.11">(2DSWE</tspan> <tspan x="-1083.33" textLength="12.10" lengthAdjust="spacingAndGlyphs">-</tspan> <tspan x="-1060.47" textLength="105.85" lengthAdjust="spacingAndGlyphs" stroke="#000" stroke-width="0.09">pSWE)</tspan> <tspan x="-942.59" textLength="10.28" lengthAdjust="spacingAndGlyphs">/</tspan> <tspan x="-920.18" textLength="132.95" lengthAdjust="spacingAndGlyphs">Average</tspan> <tspan x="-777.81" textLength="28.30" lengthAdjust="spacingAndGlyphs" stroke="#000" stroke-width="0.18">%</tspan></text>
<text transform="translate(64.11 707.80) scale(1.0347 1)" font-size="40" font-weight="bold">b</text>
<line x1="402.30" y1="1267.60" x2="402.30" y2="1273.80" stroke="#8a8a8a" stroke-width="0.9" stroke-linecap="butt"/>
</g>
</svg></body></html>
